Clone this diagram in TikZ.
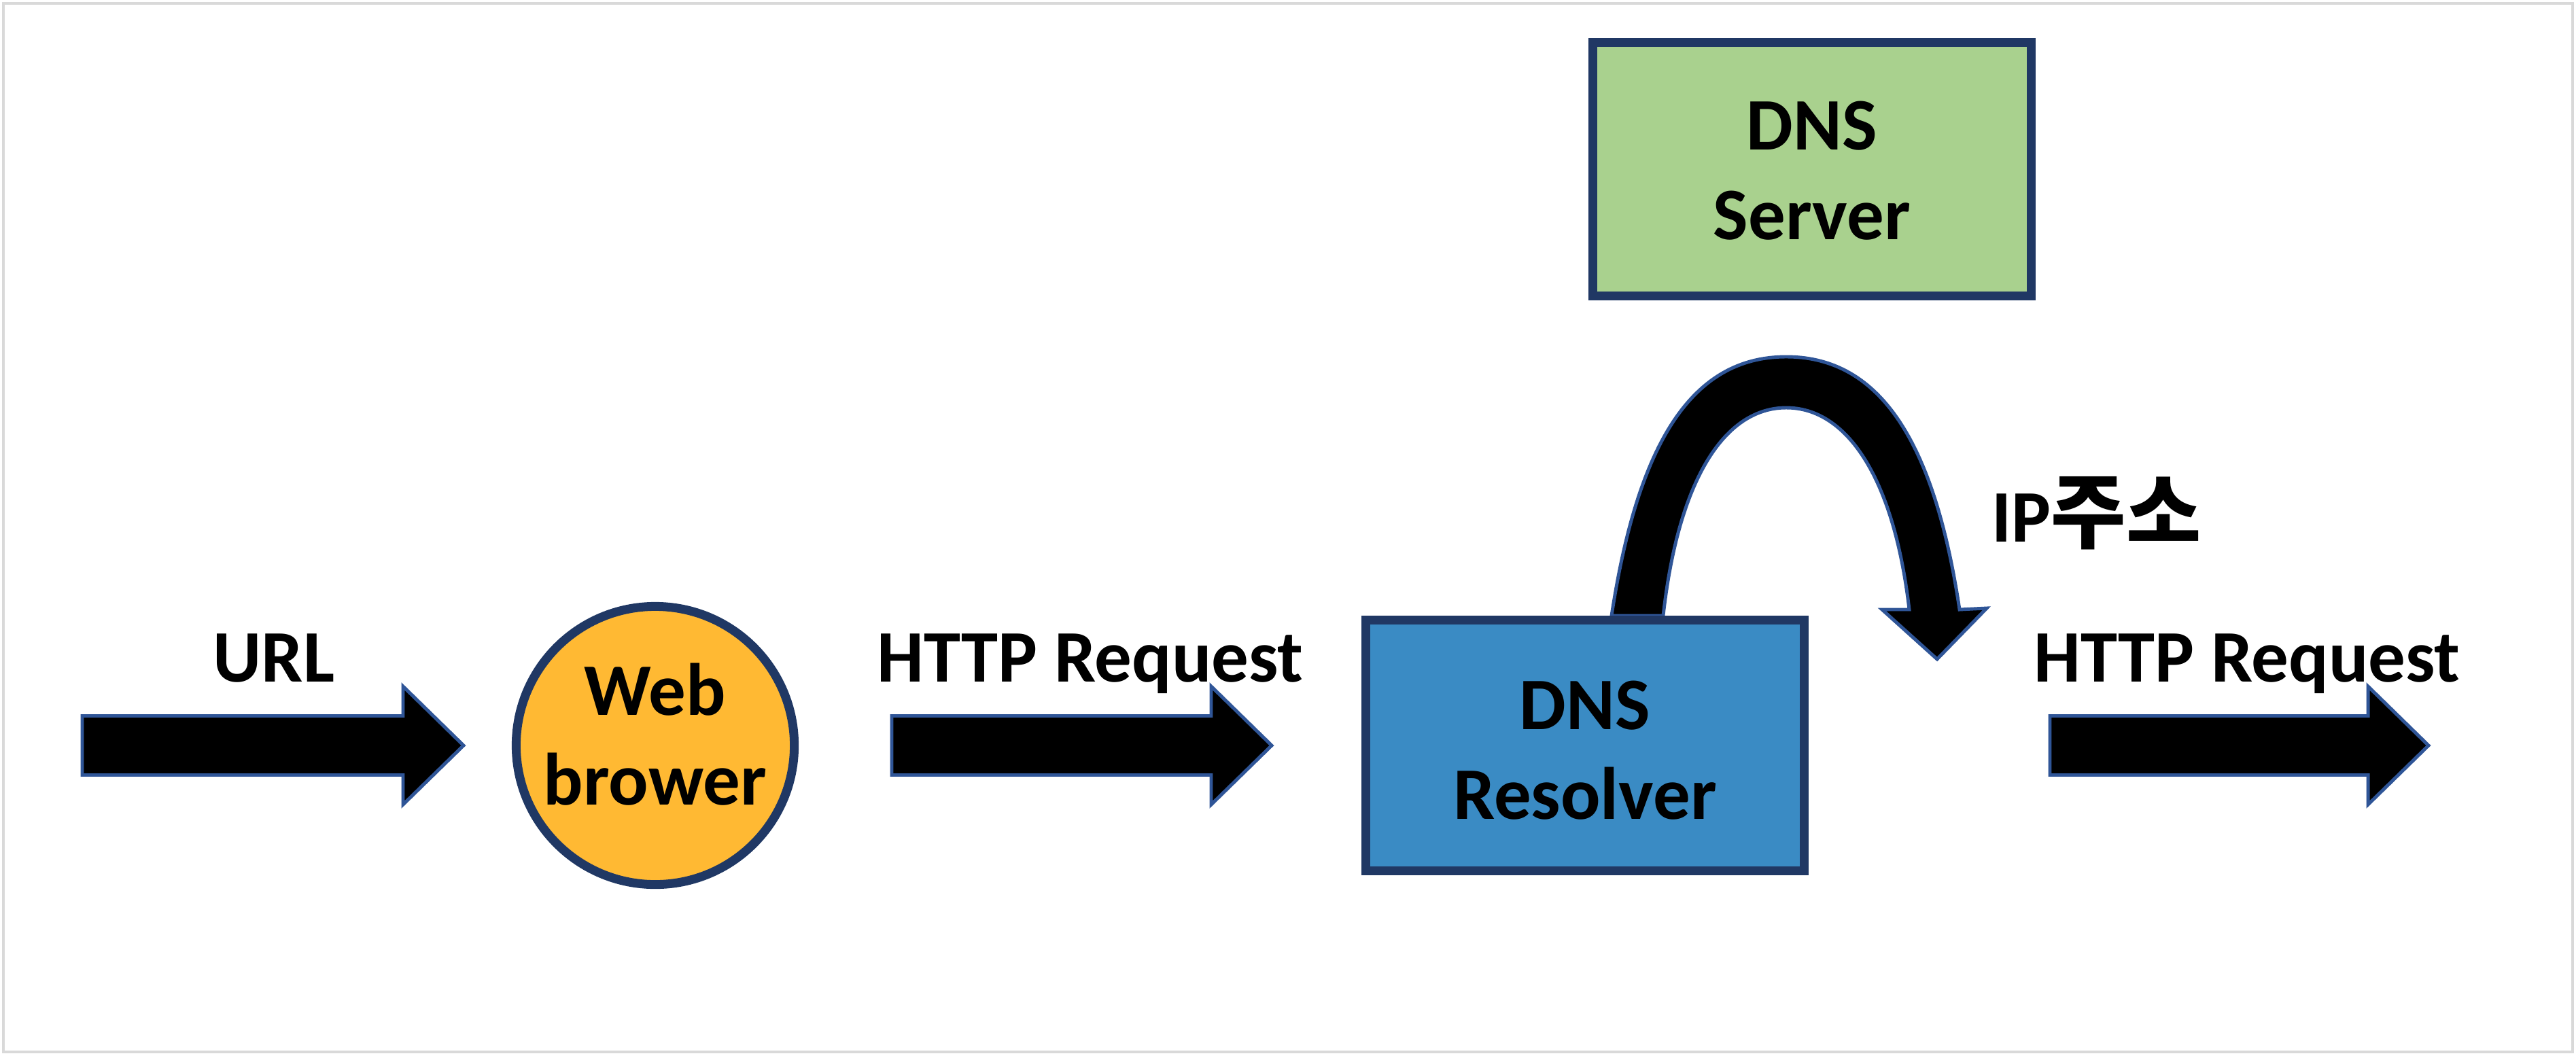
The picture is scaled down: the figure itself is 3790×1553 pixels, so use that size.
\documentclass[tikz,border=0pt]{standalone}
\usepackage{fontspec}
\setmainfont{Carlito}
\newfontfamily\kofont[Scale=1.1]{Noto Sans CJK KR}
\usetikzlibrary{calc}
\definecolor{dnsnavy}{RGB}{32,56,100}
\definecolor{dnsorange}{RGB}{255,185,51}
\definecolor{dnsblue}{RGB}{58,139,196}
\definecolor{dnsgreen}{RGB}{169,209,142}
\definecolor{dnsedge}{RGB}{47,85,151}
\definecolor{dnsframe}{RGB}{217,217,217}

% block arrow from #1 to #2 (same height)
\newcommand{\fatarrow}[2]{%
  \draw[fat] ($(#1)+(0,-43.5)$) -- ($(#2)+(-89,-43.5)$) -- ($(#2)+(-89,-87)$)
    -- (#2) -- ($(#2)+(-89,87)$) -- ($(#2)+(-89,43.5)$) -- ($(#1)+(0,43.5)$) -- cycle;}

\begin{document}
\begin{tikzpicture}[x=0.01cm,y=-0.01cm,
  msg/.style={font=\fontsize{31}{37.5}\selectfont\bfseries, inner sep=0pt},
  station/.style={draw=dnsnavy, line width=3.7pt, inner sep=0pt},
  fat/.style={fill=black, draw=dnsedge, line width=1.4pt}]
  \useasboundingbox (0,0) rectangle (3790,1553);
  \draw[dnsframe, line width=1.3pt] (5,5) rectangle (3785,1548);

  \coordinate (url-in) at (121,1097);
  \coordinate (url-out) at (682,1097);
  \coordinate (req-in) at (1312,1097);
  \coordinate (req-out) at (1871,1097);
  \coordinate (fwd-in) at (3016,1097);
  \coordinate (fwd-out) at (3573,1097);

  % lookup loop, under the resolver
  \draw[fat] (2371,906) .. controls (2410,650) and (2490,525) .. (2628,525)
    .. controls (2766,525) and (2846,650) .. (2883,897)
    -- (2923,895) -- (2850,970) -- (2769,897) -- (2809,897)
    .. controls (2786,700) and (2716,600) .. (2628,600)
    .. controls (2540,600) and (2470,700) .. (2447,906) -- cycle;

  \node[station, circle, fill=dnsorange, minimum size=4.09cm,
    label={[msg, align=center, yshift=0.16cm]center:Web\\brower}]
    (browser) at (964,1097) {};
  \node[station, fill=dnsblue, minimum width=6.44cm, minimum height=3.69cm,
    label={[msg, align=center, yshift=-0.07cm]center:DNS\\Resolver}]
    (resolver) at (2332,1097) {};
  \node[station, fill=dnsgreen, minimum width=6.45cm, minimum height=3.73cm,
    label={[msg, align=center, yshift=-0.02cm]center:DNS\\Server}]
    (server) at (2666,249) {};

  \fatarrow{url-in}{url-out}
  \fatarrow{req-in}{req-out}
  \fatarrow{fwd-in}{fwd-out}

  \node[msg, anchor=base] (url) at (403,1003) {URL};
  \node[msg, anchor=base] (req) at (1604,1003) {HTTP Request};
  \node[msg, anchor=base] (fwd) at (3306,1003) {HTTP Request};
  \node[msg, anchor=base west] (ip) at (2930,797) {IP{\kofont 주소}};
\end{tikzpicture}
\end{document}
